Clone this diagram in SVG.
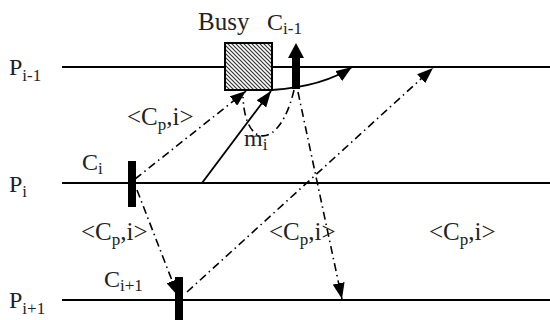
<svg xmlns="http://www.w3.org/2000/svg" width="550" height="320" viewBox="0 0 550 320" font-family="'Liberation Serif', 'DejaVu Serif', 'Times New Roman', serif">
<style>
text{font-family:'Liberation Serif','DejaVu Serif','Times New Roman',serif;font-size:24px;fill:#222}
.sub{font-size:17px}
.lbl{font-size:25px}
.proc{stroke:#000;stroke-width:2;fill:none}
.dd{stroke:#000;stroke-width:1.6;fill:none;stroke-dasharray:8 4 1.5 4}
.solid{stroke:#000;stroke-width:1.8;fill:none}
</style>
<defs>
<pattern id="hatch" width="4" height="4" patternUnits="userSpaceOnUse">
<rect width="4" height="4" fill="#fff"/>
<path d="M-1,-1 L5,5 M3,-1 L5,1 M-1,3 L1,5" stroke="#333" stroke-width="1.2"/>
</pattern>
<marker id="ah" viewBox="0 0 16 12" refX="16" refY="6" markerWidth="16" markerHeight="12" markerUnits="userSpaceOnUse" orient="auto">
<path d="M0,0 L16,6 L0,12 z" fill="#000"/>
</marker>
</defs>
<g id="process-lines">
<line class="proc" x1="62" y1="67" x2="550" y2="67"/>
<line class="proc" x1="62" y1="183" x2="550" y2="183"/>
<line class="proc" x1="62" y1="300" x2="550" y2="300"/>
<text x="9" y="75">P<tspan class="sub" dy="6">i-1</tspan></text>
<text x="9" y="192">P<tspan class="sub" dy="5">i</tspan></text>
<text x="9" y="308">P<tspan class="sub" dy="6">i+1</tspan></text>
</g>
<g id="busy">
<rect x="225" y="43" width="47" height="47" fill="url(#hatch)" stroke="#000" stroke-width="2"/>
<text x="198" y="30" style="font-size:25px">Busy</text>
</g>
<g id="ckpt-im1">
<rect x="292" y="55" width="8" height="34" fill="#000"/>
<polygon points="296,43 304,58 288,58" fill="#000"/>
<text x="267" y="30">C<tspan class="sub" dy="4">i-1</tspan></text>
</g>
<g id="ckpt-i">
<rect x="128" y="161" width="8" height="46" fill="#000"/>
<text x="82" y="170">C<tspan class="sub" dy="4">i</tspan></text>
</g>
<g id="ckpt-ip1">
<rect x="175" y="277" width="8" height="43" fill="#000"/>
<text x="104" y="287">C<tspan class="sub" dy="4">i+1</tspan></text>
</g>
<g id="connectors">
<line class="solid" x1="202" y1="183" x2="271" y2="91" marker-end="url(#ah)"/>
<path class="solid" d="M272,90 C300,88 330,82 352,67" marker-end="url(#ah)"/>
<line class="dd" x1="135" y1="179" x2="246" y2="91" marker-end="url(#ah)"/>
<path class="dd" d="M294,90 C280,150 245,150 243,97"/>
<line class="dd" x1="298" y1="92" x2="342" y2="299" marker-end="url(#ah)"/>
<line class="dd" x1="187" y1="292" x2="433" y2="68" marker-end="url(#ah)"/>
<line class="dd" x1="137" y1="190" x2="178" y2="296" marker-end="url(#ah)"/>
</g>
<g id="labels">
<text class="lbl" x="127" y="125">&lt;C<tspan class="sub" dy="5">p</tspan><tspan dy="-5">,i&gt;</tspan></text>
<text class="lbl" x="81" y="240">&lt;C<tspan class="sub" dy="5">p</tspan><tspan dy="-5">,i&gt;</tspan></text>
<text class="lbl" x="269" y="240">&lt;C<tspan class="sub" dy="5">p</tspan><tspan dy="-5">,i&gt;</tspan></text>
<text class="lbl" x="429" y="240">&lt;C<tspan class="sub" dy="5">p</tspan><tspan dy="-5">,i&gt;</tspan></text>
<text x="244" y="146">m<tspan class="sub" dy="4">i</tspan></text>
</g>
</svg>
